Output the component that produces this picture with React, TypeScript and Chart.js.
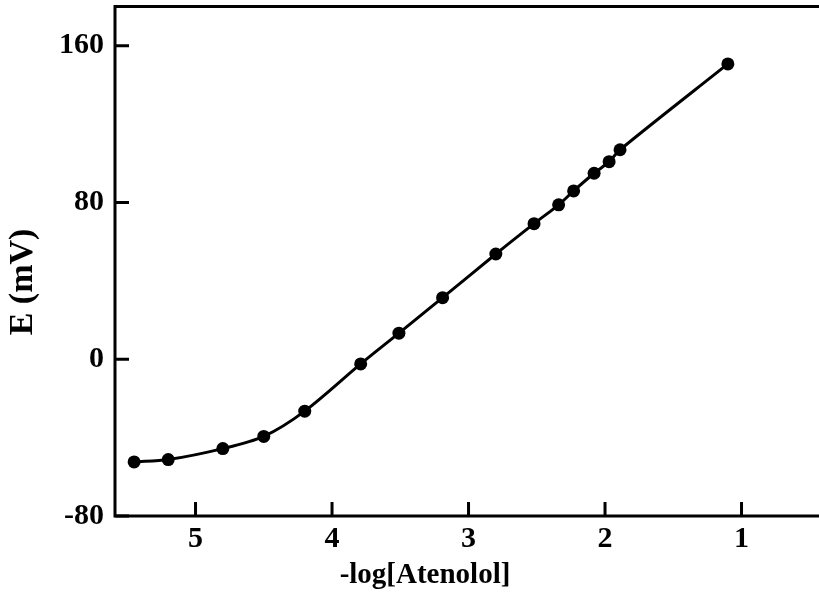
import React, { useEffect, useRef } from "react";
import { Chart, registerables } from "chart.js";

Chart.register(...registerables);

const logConc: number[] = [5.45, 5.2, 4.8, 4.5, 4.2, 3.79, 3.51, 3.19, 2.8, 2.52, 2.34, 2.23, 2.08, 1.97, 1.89, 1.1];
const potential: number[] = [-52.4, -51.2, -45.6, -39.4, -26.5, -2.4, 13.3, 31.4, 53.7, 69.2, 78.8, 85.9, 94.9, 100.8, 106.9, 150.7];
const xTickValues: number[] = [5, 4, 3, 2, 1];
const yTickValues: number[] = [-80, 0, 80, 160];
const xTitle = "-log[Atenolol]";
const yTitle = "E (mV)";

const FONT = "'Liberation Serif', 'Times New Roman', serif";

const frameAndTicks = {
  id: "frameAndTicks",
  afterDatasetsDraw(chart: any) {
    const { ctx, chartArea } = chart;
    const { left, top, right, bottom } = chartArea;
    ctx.save();
    ctx.strokeStyle = "#000";
    ctx.lineCap = "square";
    ctx.lineWidth = 3;
    ctx.beginPath();
    ctx.moveTo(left, bottom);
    ctx.lineTo(left, top);
    ctx.lineTo(right + 5, top);
    ctx.moveTo(left, bottom);
    ctx.lineTo(right + 5, bottom);
    ctx.stroke();
    const xs = chart.scales.x;
    const ys = chart.scales.y;
    ctx.lineWidth = 3;
    ctx.lineCap = "butt";
    ctx.beginPath();
    xs.ticks.forEach((t: any) => {
      const px = xs.getPixelForValue(t.value);
      ctx.moveTo(px, bottom);
      ctx.lineTo(px, bottom - 14);
    });
    ys.ticks.forEach((t: any) => {
      const py = ys.getPixelForValue(t.value);
      ctx.moveTo(left, py);
      ctx.lineTo(left + 14, py);
    });
    ctx.stroke();
    ctx.fillStyle = "#000";
    // x axis title
    ctx.font = `bold 29px ${FONT}`;
    ctx.textAlign = "center";
    ctx.textBaseline = "alphabetic";
    ctx.fillText(xTitle, 425, 583);
    // y axis title
    ctx.translate(23, 282);
    ctx.rotate(-Math.PI / 2);
    ctx.font = `bold 34px ${FONT}`;
    ctx.textAlign = "center";
    ctx.textBaseline = "middle";
    ctx.fillText(yTitle, 0, 0);
    ctx.restore();
  },
};

export default function App() {
  const ref = useRef<HTMLCanvasElement | null>(null);
  useEffect(() => {
    document.body.style.margin = "0";
    const canvas = ref.current;
    if (!canvas) return;
    const chart = new Chart(canvas, {
      type: "line",
      data: {
        datasets: [
          {
            data: logConc.map((x, i) => ({ x, y: potential[i] })),
            borderColor: "#000",
            backgroundColor: "#000",
            borderWidth: 3,
            pointRadius: 6.5,
            pointBorderWidth: 0,
            pointBackgroundColor: "#000",
            tension: 0.3,
            fill: false,
          },
        ],
      },
      options: {
        responsive: false,
        animation: false,
        layout: { padding: { left: 4, top: 5, right: 0, bottom: 0 } },
        plugins: { legend: { display: false }, tooltip: { enabled: false } },
        scales: {
          x: {
            type: "linear",
            reverse: true,
            min: 0.48,
            max: 5.59,
            afterBuildTicks: (scale: any) => {
              scale.ticks = xTickValues.map((v) => ({ value: v }));
            },
            afterFit: (scale: any) => {
              scale.height = 82;
              scale.paddingLeft = 0;
              scale.paddingRight = 0;
            },
            ticks: {
              color: "#000",
              padding: 5,
              font: { family: FONT, size: 30, weight: "bold" },
              callback: (v: any) => String(v),
            },
            grid: { display: false, drawTicks: false },
            border: { display: false },
            title: { display: false },
          },
          y: {
            type: "linear",
            min: -80,
            max: 180,
            afterBuildTicks: (scale: any) => {
              scale.ticks = yTickValues.map((v) => ({ value: v }));
            },
            afterFit: (scale: any) => {
              scale.width = 111;
              scale.paddingTop = 0;
              scale.paddingBottom = 0;
            },
            ticks: {
              color: "#000",
              padding: 11,
              font: { family: FONT, size: 30, weight: "bold" },
              callback: (v: any) => String(v),
            },
            grid: { display: false, drawTicks: false },
            border: { display: false },
            title: { display: false },
          },
        },
      },
      plugins: [frameAndTicks],
    });
    return () => chart.destroy();
  }, []);
  return (
    <div style={{ position: "fixed", left: 0, top: 0, width: 819, height: 598, background: "#fff" }}>
      <canvas ref={ref} width={819} height={598} style={{ width: 819, height: 598, display: "block" }} />
    </div>
  );
}
